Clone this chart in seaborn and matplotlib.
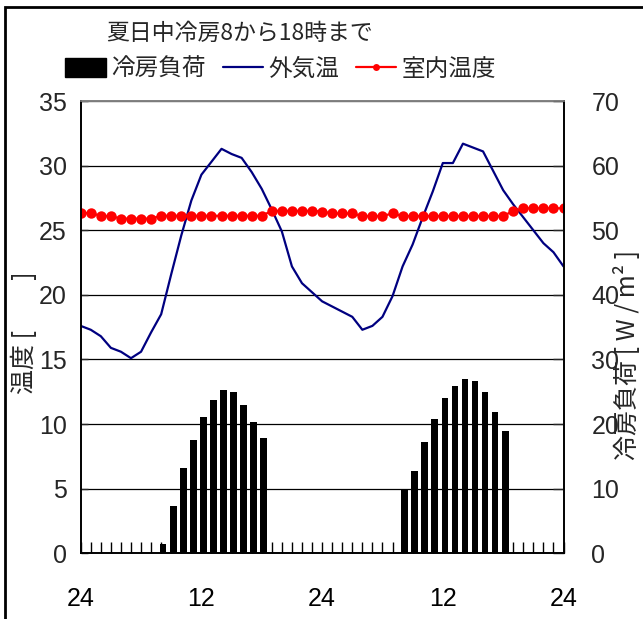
import matplotlib
matplotlib.use("Agg")
import matplotlib.pyplot as plt
from matplotlib.patches import Patch, Rectangle
from matplotlib.lines import Line2D
from matplotlib.ticker import MultipleLocator, FixedLocator
import seaborn as sns

# hourly data over two days (hour 0 = midnight, labelled 24)
hours = list(range(49))
outdoor_temp = [17.6, 17.3, 16.8, 15.9, 15.6, 15.1, 15.6, 17.1, 18.5, 21.6,
                24.6, 27.3, 29.3, 30.3, 31.3, 30.9, 30.6, 29.5, 28.2, 26.6,
                24.9, 22.2, 20.9, 20.2, 19.5, 19.1, 18.7, 18.3, 17.3, 17.6,
                18.3, 19.9, 22.2, 23.9, 26.0, 28.0, 30.2, 30.2, 31.7, 31.4,
                31.1, 29.6, 28.1, 27.0, 26.0, 25.0, 24.0, 23.3, 22.2]
room_temp = ([26.3, 26.35, 26.1, 26.1, 25.9, 25.9, 25.9, 25.9]
             + [26.12] * 11
             + [26.5] * 5 + [26.45]
             + [26.3] * 3
             + [26.1] * 3
             + [26.3]
             + [26.1] * 11
             + [26.5]
             + [26.7] * 5)
load_hours = [8, 9, 10, 11, 12, 13, 14, 15, 16, 17, 18,
              32, 33, 34, 35, 36, 37, 38, 39, 40, 41, 42]
cooling_load = [1.4, 7.3, 13.2, 17.5, 21.1, 23.7, 25.2, 24.9, 23.0, 20.4, 17.9,
                9.9, 12.7, 17.2, 20.8, 24.1, 25.9, 27.0, 26.7, 24.9, 21.9, 19.0]
xtick_pos = [0, 12, 24, 36, 48]
xtick_labels = ["24", "12", "24", "12", "24"]

title = "夏日中冷房8から18時まで"
legend_labels = ["冷房負荷", "外気温", "室内温度"]
left_label = "温度 [　　]"
right_label = "冷房負荷 [ W / m² ]"

sns.set_style("white")
plt.rcParams["font.family"] = ["Liberation Sans", "Noto Sans CJK JP", "DejaVu Sans"]
cjk = ["Noto Sans CJK JP", "DejaVu Sans"]

fig = plt.figure(figsize=(6.43, 6.19), dpi=100)
ax = fig.add_axes([0.1255, 0.1061, 0.7509, 0.7307])
ax2 = ax.twinx()

navy = "#000080"
red = "#ff0000"

ax.yaxis.grid(True, color="black", lw=0.9)
ax.set_axisbelow(True)

sns.lineplot(x=hours, y=outdoor_temp, ax=ax, color=navy, lw=1.6)
sns.lineplot(x=hours, y=room_temp, ax=ax, color=red, lw=1.6,
             marker="o", markersize=7.5, markeredgewidth=0)

ax2.bar([h + 0.2 for h in load_hours], cooling_load, width=0.66,
        color="black", linewidth=0)

ax.set_xlim(0, 48)
ax.set_ylim(0, 35)
ax2.set_ylim(0, 70)
ax.set_ylabel("")
ax2.set_ylabel("")

ax.xaxis.set_major_locator(FixedLocator(xtick_pos))
ax.set_xticklabels(xtick_labels)
ax.xaxis.set_minor_locator(MultipleLocator(1))
ax.yaxis.set_major_locator(MultipleLocator(5))
ax2.yaxis.set_major_locator(MultipleLocator(10))

ax.tick_params(axis="x", which="both", direction="in", length=8, width=1,
               colors="black", labelsize=18, pad=24, bottom=True)
ax.tick_params(axis="y", direction="in", length=5, width=1,
               labelsize=18, pad=10, left=True)
ax2.tick_params(axis="y", direction="in", length=8, width=1,
                labelsize=18, pad=20, right=True)

for a in (ax, ax2):
    for side in ("left", "right", "bottom"):
        a.spines[side].set_color("black")
        a.spines[side].set_linewidth(1.2)
    a.spines["top"].set_color("#808080")
    a.spines["top"].set_linewidth(1.2)

fig.text(240 / 643, 1 - 33 / 619, title, ha="center", va="center",
         fontsize=16.5, family=cjk)

handles = [Patch(facecolor="black", edgecolor="black"),
           Line2D([], [], color=navy, lw=1.6),
           Line2D([], [], color=red, lw=1.6, marker="o", markersize=5,
                  markeredgewidth=0)]
fig.legend(handles, legend_labels, loc="center", ncol=3,
           bbox_to_anchor=(281 / 643, 1 - 69 / 619), frameon=False,
           prop={"family": cjk, "size": 17},
           handlelength=1.7, handleheight=0.85, handletextpad=0.25,
           columnspacing=0.7, borderpad=0, borderaxespad=0)

fig.text(25 / 643, 1 - 333 / 619, left_label, rotation=90, ha="center",
         va="center", fontsize=18, family=cjk)
fig.text(628 / 643, 1 - 355 / 619, right_label, rotation=90, ha="center",
         va="center", fontsize=18, family=cjk)

# outer frame around the figure
fig.patches.append(Rectangle((5 / 643, -0.05), 1.2, 1 - 7 / 619 + 0.05,
                             transform=fig.transFigure, fill=False,
                             edgecolor="black", lw=2, zorder=-1))

fig.savefig("out.png", dpi=100)
